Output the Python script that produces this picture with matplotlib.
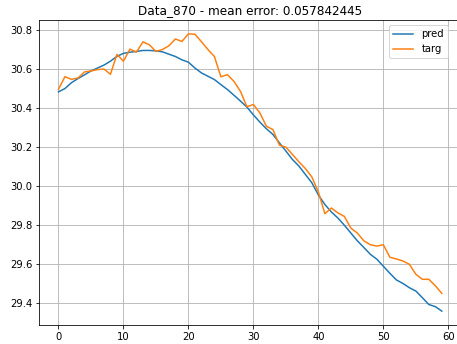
import matplotlib
matplotlib.use("Agg")
import matplotlib.pyplot as plt

# values
pred = [30.483, 30.50, 30.53, 30.551, 30.57, 30.59, 30.605, 30.62, 30.64, 30.665,
        30.68, 30.686, 30.69, 30.695, 30.695, 30.693, 30.688, 30.676, 30.664, 30.647,
        30.635, 30.605, 30.58, 30.563, 30.546, 30.52, 30.495, 30.466, 30.436, 30.405,
        30.365, 30.328, 30.294, 30.265, 30.222, 30.18, 30.137, 30.103, 30.06, 30.017,
        29.955, 29.906, 29.868, 29.837, 29.80, 29.76, 29.72, 29.686, 29.651, 29.626,
        29.59, 29.554, 29.52, 29.502, 29.48, 29.463, 29.429, 29.394, 29.383, 29.36]
targ = [30.496, 30.561, 30.547, 30.554, 30.585, 30.59, 30.597, 30.60, 30.573, 30.675,
        30.64, 30.702, 30.686, 30.739, 30.724, 30.69, 30.70, 30.719, 30.754, 30.741,
        30.78, 30.778, 30.74, 30.70, 30.664, 30.56, 30.571, 30.537, 30.486, 30.407,
        30.418, 30.375, 30.307, 30.29, 30.21, 30.2, 30.163, 30.125, 30.09, 30.047,
        29.97, 29.859, 29.888, 29.863, 29.845, 29.785, 29.76, 29.72, 29.70, 29.693,
        29.70, 29.636, 29.627, 29.617, 29.60, 29.549, 29.523, 29.523, 29.49, 29.451]
title = "Data_870 - mean error: 0.057842445"

fig = plt.figure(figsize=(457 / 72, 344 / 72), dpi=72)
ax = fig.add_axes([39.3 / 457, 1 - 325 / 344, (461 - 39.3) / 457, (325 - 20) / 344])

ax.plot(range(len(pred)), pred, label="pred")
ax.plot(range(len(targ)), targ, label="targ")
ax.set_title(title)
ax.grid(True)
ax.legend(loc="upper right", bbox_to_anchor=(0.981, 1.0))

fig.savefig("out.png", dpi=72)
